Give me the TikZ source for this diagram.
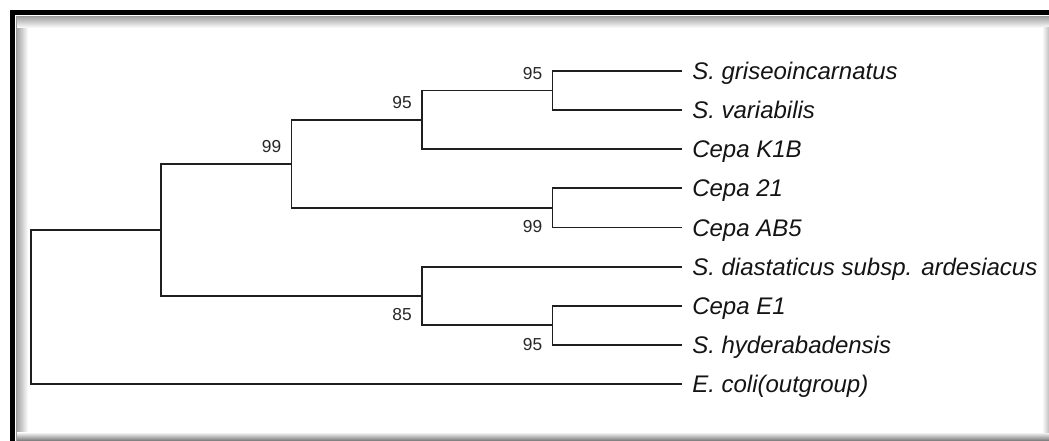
\documentclass[tikz,border=0pt]{standalone}
\usepackage{fontspec}
\setmainfont{Liberation Sans}
\usetikzlibrary{calc}
\begin{document}
\begin{tikzpicture}[x=0.75pt,y=-0.75pt,
  branch/.style={line width=1.4pt, draw=black!88},
  taxon/.style={anchor=base west, inner sep=0pt, text=black!92,
    font=\fontsize{18}{20}\selectfont\itshape},
  boot/.style={inner sep=0pt, text=black!85, font=\fontsize{13}{15}\selectfont}]
\useasboundingbox (0,0) rectangle (1049,441);

% panel with inset frame
\fill[white] (0,0) rectangle (1049,441);
\shade[left color=black!35, right color=white] (17,17) rectangle (28,441);
\shade[top color=black!35, bottom color=white] (17,17) rectangle (1049,28);
\shade[top color=white, bottom color=black!55] (17,432) rectangle (1049,441);
\shade[left color=white, right color=black!25] (1042,28) rectangle (1049,432);
\fill[black!40] (16,16) rectangle (17,441);
\fill[black!40] (16,16) rectangle (1049,17);
\fill[black] (10,10) rectangle (15,441);
\fill[black] (10,10) rectangle (1049,15);

% internal nodes
\coordinate (nR)  at (31,306.98);
\coordinate (nA)  at (161,229.95);
\coordinate (nB)  at (291.5,163.9);
\coordinate (n95) at (422,119.9);
\coordinate (nG1) at (552.5,90.56);
\coordinate (nG2) at (552.5,207.95);
\coordinate (n85) at (422,296);
\coordinate (nG3) at (552.5,325.3);

% leaf tips
\coordinate (t1) at (682,71);
\coordinate (t2) at (682,110.1);
\coordinate (t3) at (682,149.25);
\coordinate (t4) at (682,188.4);
\coordinate (t5) at (682,227.5);
\coordinate (t6) at (682,266.6);
\coordinate (t7) at (682,305.75);
\coordinate (t8) at (682,344.9);
\coordinate (t9) at (682,384);

% branches
\foreach \p/\c in {nR/nA, nR/t9, nA/nB, nA/n85, nB/n95, nB/nG2,
                   n95/nG1, n95/t3, nG1/t1, nG1/t2, nG2/t4, nG2/t5,
                   n85/t6, n85/nG3, nG3/t7, nG3/t8}
  \draw[branch] (\p) |- (\c);

% taxon names
\node[taxon] (l1) at ($(t1)+(10,8.6)$) {S. griseoincarnatus};
\node[taxon] (l2) at ($(t2)+(10,8.6)$) {S. variabilis};
\node[taxon] (l3) at ($(t3)+(10,8.6)$) {Cepa K1B};
\node[taxon] (l4) at ($(t4)+(10,8.6)$) {Cepa 21};
\node[taxon] (l5) at ($(t5)+(10,8.6)$) {Cepa AB5};
\node[taxon] (l6) at ($(t6)+(10,8.6)$) {S. diastaticus subsp. ardesiacus};
\node[taxon] (l7) at ($(t7)+(10,8.6)$) {Cepa E1};
\node[taxon] (l8) at ($(t8)+(10,8.6)$) {S. hyderabadensis};
\node[taxon] (l9) at ($(t9)+(10,8.6)$) {E. coli(outgroup)};

% bootstrap values
\node[boot, anchor=south east] (bG1) at ($(nG1)+(-10,-10.5)$) {95};
\node[boot, anchor=south east] (b95) at ($(n95)+(-10,-10.5)$) {95};
\node[boot, anchor=south east] (bB)  at ($(nB)+(-10,-10.5)$) {99};
\node[boot, anchor=north east] (bG2) at ($(nG2)+(-10,12.5)$) {99};
\node[boot, anchor=north east] (b85) at ($(n85)+(-10,12.5)$) {85};
\node[boot, anchor=north east] (bG3) at ($(nG3)+(-10,12.5)$) {95};
\end{tikzpicture}
\end{document}
